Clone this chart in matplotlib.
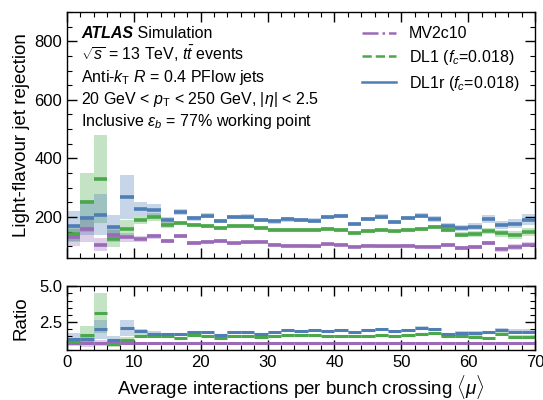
import numpy as np
import matplotlib
matplotlib.use("Agg")
import matplotlib.pyplot as plt
from matplotlib.ticker import MultipleLocator
from matplotlib.lines import Line2D

plt.rcParams['font.family'] = ['Liberation Sans', 'DejaVu Sans']
plt.rcParams['mathtext.fontset'] = 'custom'
plt.rcParams['mathtext.rm'] = 'Liberation Sans'
plt.rcParams['mathtext.it'] = 'Liberation Sans:italic'
plt.rcParams['mathtext.bf'] = 'Liberation Sans:bold'

# ---- data ----
mu_edges = np.arange(0, 72, 2)

mv2c10 = [130, 158, 105, 139, 130, 125, 134, 118, 134, 111, 116, 118, 111, 113, 116, 105, 102, 102,
          100, 107, 105, 98, 102, 100, 100, 102, 98, 98, 105, 95, 98, 111, 90, 98, 106]
mv2c10_err = [30, 45, 22, 25, 15, 10, 8, 7, 7, 6, 6, 6, 5, 5, 5, 5, 5, 5,
              5, 5, 5, 5, 5, 5, 5, 5, 5, 5, 6, 6, 6, 7, 8, 9, 10]

dl1 = [143, 250, 329, 126, 159, 190, 200, 173, 180, 173, 169, 163, 169, 169, 163, 156, 156, 156,
       156, 159, 156, 145, 152, 156, 151, 156, 159, 166, 157, 140, 142, 151, 145, 138, 149]
dl1_err = [30, 100, 150, 30, 30, 15, 13, 9, 8, 7, 7, 6, 6, 6, 6, 6, 6, 6,
           6, 6, 6, 6, 6, 6, 6, 6, 6, 7, 8, 9, 9, 10, 12, 14, 15]

dl1r = [169, 197, 207, 166, 268, 227, 223, 189, 218, 196, 205, 186, 200, 201, 190, 185, 192, 190,
        188, 200, 203, 176, 193, 201, 183, 197, 205, 193, 168, 163, 166, 193, 174, 177, 191]
dl1r_err = [50, 60, 70, 40, 75, 25, 20, 12, 10, 9, 9, 8, 8, 8, 8, 8, 8, 8,
            8, 8, 8, 8, 8, 8, 8, 8, 8, 9, 10, 11, 12, 15, 14, 16, 20]

labels = ["MV2c10", r"DL1 ($f_c$=0.018)", r"DL1r ($f_c$=0.018)"]
colors = ["#9a6ab8", "#4aa84a", "#4f7eb5"]
styles = ["-.", "--", "-"]

info_lines = [
    r"$\sqrt{s}$ = 13 TeV, $t\bar{t}$ events",
    r"Anti-$k_{\mathrm{T}}$ $R$ = 0.4 PFlow jets",
    r"20 GeV < $p_{\mathrm{T}}$ < 250 GeV, $|\eta|$ < 2.5",
    r"Inclusive $\varepsilon_b$ = 77% working point",
]

# ---- figure ----
fig = plt.figure(figsize=(5.43, 4.0), dpi=100)
ax = fig.add_axes([0.1234, 0.355, 0.862, 0.615])
rax = fig.add_axes([0.1234, 0.125, 0.862, 0.159], sharex=ax)

lo = mu_edges[:-1]
hi = mu_edges[1:]
centers = 0.5 * (lo + hi)
width = hi - lo

series = [(np.array(mv2c10), np.array(mv2c10_err)),
          (np.array(dl1), np.array(dl1_err)),
          (np.array(dl1r), np.array(dl1r_err))]
ref_v, ref_e = series[0]

for (v, e), c in zip(series, colors):
    ax.bar(centers, 2 * e, bottom=v - e, width=width, color=c, alpha=0.32, linewidth=0)
for (v, e), c in zip(series, colors):
    ax.hlines(v, lo, hi, colors=c, linewidth=2.6)

for (v, e), c in zip(series, colors):
    r = v / ref_v
    re = r * e / v
    rax.bar(centers, 2 * re, bottom=r - re, width=width, color=c, alpha=0.32, linewidth=0)
for (v, e), c in zip(series, colors):
    r = v / ref_v
    rax.hlines(r, lo, hi, colors=c, linewidth=2.2)

ax.set_xlim(0, 70)
ax.set_ylim(60, 900)
rax.set_ylim(0.5, 5.0)

for a in (ax, rax):
    a.tick_params(which='both', direction='in', top=True, right=True, labelsize=12)
    a.tick_params(which='major', length=7, width=1)
    a.tick_params(which='minor', length=3.5, width=0.8)
    a.xaxis.set_major_locator(MultipleLocator(10))
    a.xaxis.set_minor_locator(MultipleLocator(2))
    for s in a.spines.values():
        s.set_linewidth(1.0)

ax.yaxis.set_major_locator(MultipleLocator(200))
ax.yaxis.set_minor_locator(MultipleLocator(50))
rax.yaxis.set_major_locator(MultipleLocator(2.5))
rax.yaxis.set_minor_locator(MultipleLocator(0.5))
plt.setp(ax.get_xticklabels(), visible=False)

ax.set_ylabel("Light-flavour jet rejection", fontsize=13.5)
rax.set_ylabel("Ratio", fontsize=13.5)
rax.set_xlabel(r"Average interactions per bunch crossing $\langle\mu\rangle$", fontsize=13.5, labelpad=2)
ax.yaxis.set_label_coords(-0.08, 0.5)
rax.yaxis.set_label_coords(-0.08, 0.5)

# legend
handles = [Line2D([0], [0], color=c, linestyle=ls, linewidth=1.8) for c, ls in zip(colors, styles)]
ax.legend(handles, labels, loc='upper right', frameon=False, fontsize=11.5,
          handlelength=2.1, handletextpad=0.8, labelspacing=0.42,
          bbox_to_anchor=(0.997, 1.0))

# ATLAS label
x0, y0, dy = 0.03, 0.893, 0.089
t = ax.text(x0, y0, "ATLAS", transform=ax.transAxes, fontsize=11.5,
            fontweight='bold', fontstyle='italic', va='baseline')
ax.annotate(" Simulation", xy=(1, 0), xycoords=t, fontsize=11.5, va='bottom')
for i, line in enumerate(info_lines):
    ax.text(x0, y0 - dy * (i + 1), line, transform=ax.transAxes,
            fontsize=11.5, va='baseline')

fig.savefig("out.png", dpi=100)
